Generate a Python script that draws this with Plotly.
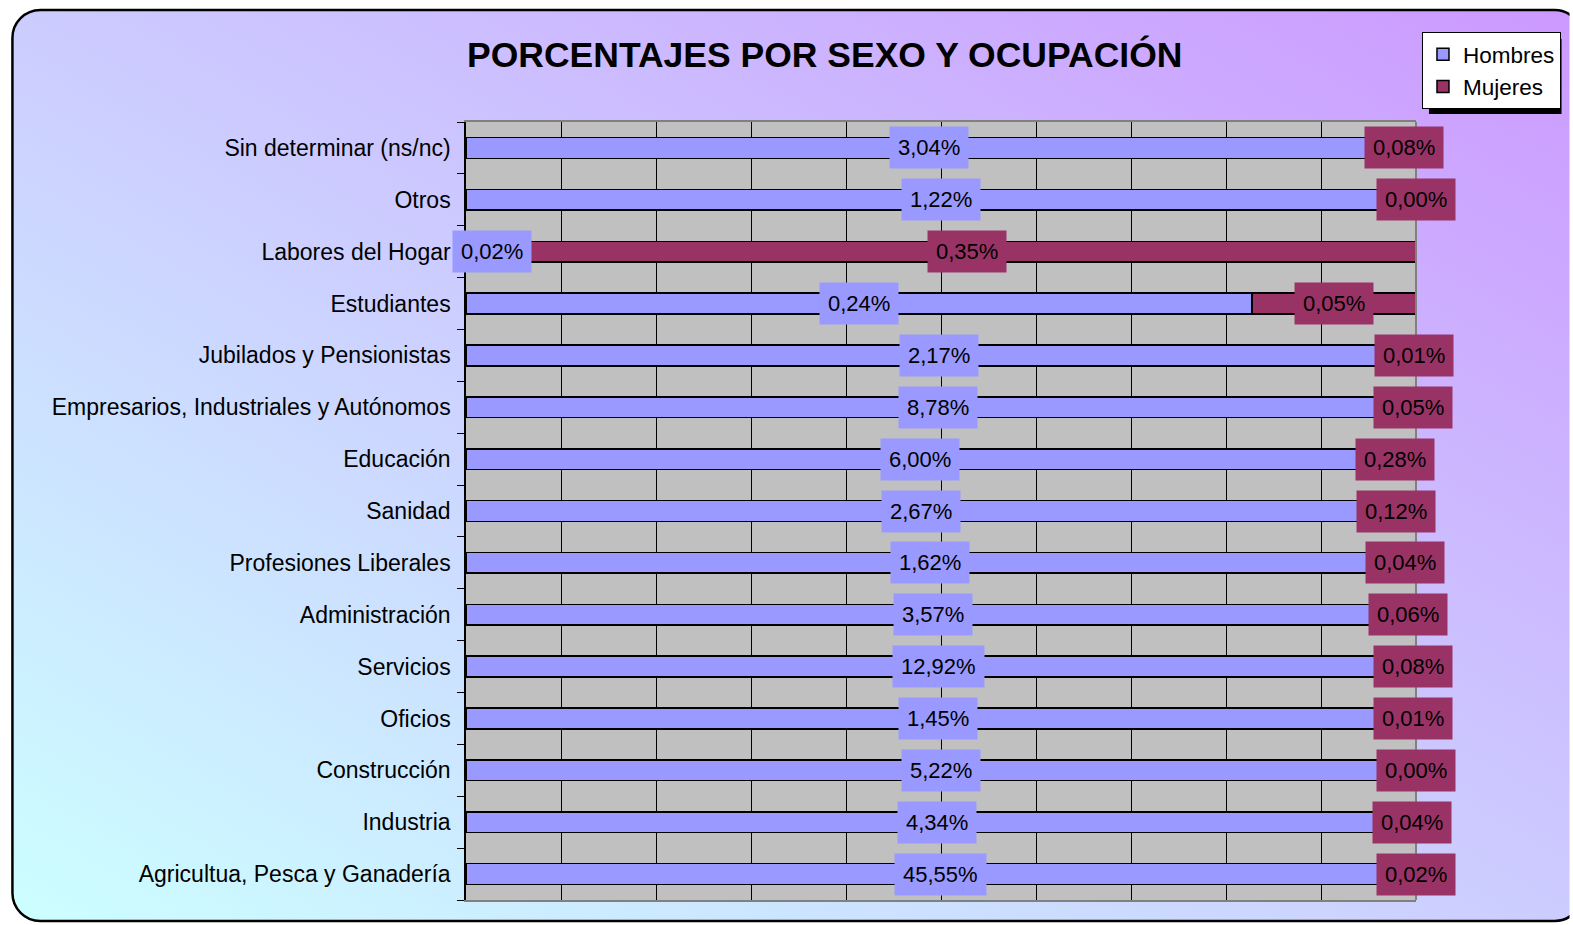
import base64
import plotly.graph_objects as go

categories = [
    "Agricultua, Pesca y Ganadería",
    "Industria",
    "Construcción",
    "Oficios",
    "Servicios",
    "Administración",
    "Profesiones Liberales",
    "Sanidad",
    "Educación",
    "Empresarios, Industriales y Autónomos",
    "Jubilados y Pensionistas",
    "Estudiantes",
    "Labores del Hogar",
    "Otros",
    "Sin determinar (ns/nc)",
]
hombres = [45.55, 4.34, 5.22, 1.45, 12.92, 3.57, 1.62, 2.67, 6.00, 8.78, 2.17, 0.24, 0.02, 1.22, 3.04]
mujeres = [0.02, 0.04, 0.00, 0.01, 0.08, 0.06, 0.04, 0.12, 0.28, 0.05, 0.01, 0.05, 0.35, 0.00, 0.08]

W, H = 1573, 925
L, R, T, B = 466, 1419, 122, 900
PW, PH = R - L, B - T

C_H = "#9999FF"
C_M = "#993366"
FONT = "Liberation Sans, Arial, sans-serif"


def fmt(v):
    return f"{v:.2f}".replace(".", ",") + "%"


def px_x(p):
    return (p - L) / PW


def px_y(p):
    return (B - p) / PH


fig = go.Figure()
fig.add_trace(go.Bar(y=categories, x=hombres, name="Hombres", orientation="h",
                     marker=dict(color=C_H, line=dict(color="black", width=1.5))))
fig.add_trace(go.Bar(y=categories, x=mujeres, name="Mujeres", orientation="h",
                     marker=dict(color=C_M, line=dict(color="black", width=1.5))))

annotations = []
for cat, h, m in zip(categories, hombres, mujeres):
    tot = h + m
    ph = 100 * h / tot
    annotations.append(dict(x=ph / 2, y=cat, xref="x", yref="y", text=fmt(h), showarrow=False,
                            bgcolor=C_H, borderpad=8, font=dict(family=FONT, size=22, color="black")))
for cat, h, m in zip(categories, hombres, mujeres):
    tot = h + m
    ph = 100 * h / tot
    annotations.append(dict(x=ph + (100 - ph) / 2, y=cat, xref="x", yref="y", text=fmt(m), showarrow=False,
                            bgcolor=C_M, borderpad=8, font=dict(family=FONT, size=22, color="black")))

annotations.append(dict(text="<b>PORCENTAJES POR SEXO Y OCUPACIÓN</b>", xref="paper", yref="paper",
                        x=px_x(826), y=px_y(55), xanchor="center", yanchor="middle", showarrow=False,
                        font=dict(family=FONT, size=35.5, color="black")))

svg = f'''<svg xmlns="http://www.w3.org/2000/svg" width="{W}" height="{H}" viewBox="0 0 {W} {H}" preserveAspectRatio="none">
<defs><linearGradient id="g" x1="0" y1="1" x2="1" y2="0">
<stop offset="0" stop-color="#CCFFFF"/><stop offset="0.5" stop-color="#CCCCFF"/><stop offset="1" stop-color="#CC99FF"/>
</linearGradient></defs>
<rect x="11" y="10" width="1575" height="911" rx="28" ry="28" fill="url(#g)" stroke="black" stroke-width="2.5"/>
<rect x="{L}" y="{T}" width="{PW}" height="{PH}" fill="#C0C0C0"/>
</svg>'''
src = "data:image/svg+xml;base64," + base64.b64encode(svg.encode("utf-8")).decode("ascii")

fig.update_layout(
    width=W, height=H,
    margin=dict(l=L, r=W - R, t=T, b=H - B, pad=0),
    paper_bgcolor="white",
    plot_bgcolor="#C0C0C0",
    barmode="stack",
    barnorm="percent",
    bargap=0.6,
    showlegend=True,
    legend=dict(x=px_x(1425), y=px_y(32), xanchor="left", yanchor="top",
                bgcolor="white", bordercolor="black", borderwidth=1,
                font=dict(family=FONT, size=22.5, color="black"),
                traceorder="normal", tracegroupgap=4, itemwidth=30),
    font=dict(family=FONT, size=20, color="black"),
    annotations=annotations,
    images=[dict(source=src, xref="paper", yref="paper", x=-L / PW, y=1 + T / PH,
                 sizex=W / PW, sizey=H / PH, sizing="stretch", xanchor="left", yanchor="top",
                 layer="below")],
    shapes=[
        dict(type="rect", xref="paper", yref="paper", x0=px_x(1432), x1=px_x(1565), y0=px_y(114), y1=px_y(39),
             fillcolor="black", line=dict(width=0), layer="below"),
        dict(type="line", xref="paper", yref="paper", x0=1, x1=1, y0=0, y1=1,
             line=dict(color="#808080", width=2), layer="above"),
    ],
    xaxis=dict(range=[0, 100], dtick=10, showticklabels=False, ticks="", showgrid=True,
               gridcolor="#000000", gridwidth=1, zeroline=False, showline=True, mirror=True,
               linecolor="#808080", linewidth=2, fixedrange=True),
    yaxis=dict(type="category", showgrid=False, zeroline=False, showline=True, linecolor="black",
               linewidth=1.5, ticks="outside", tickson="boundaries", ticklen=7, tickcolor="black",
               ticklabelstandoff=9, tickfont=dict(family=FONT, size=23, color="black"), fixedrange=True),
)

fig.write_html("out.html")
